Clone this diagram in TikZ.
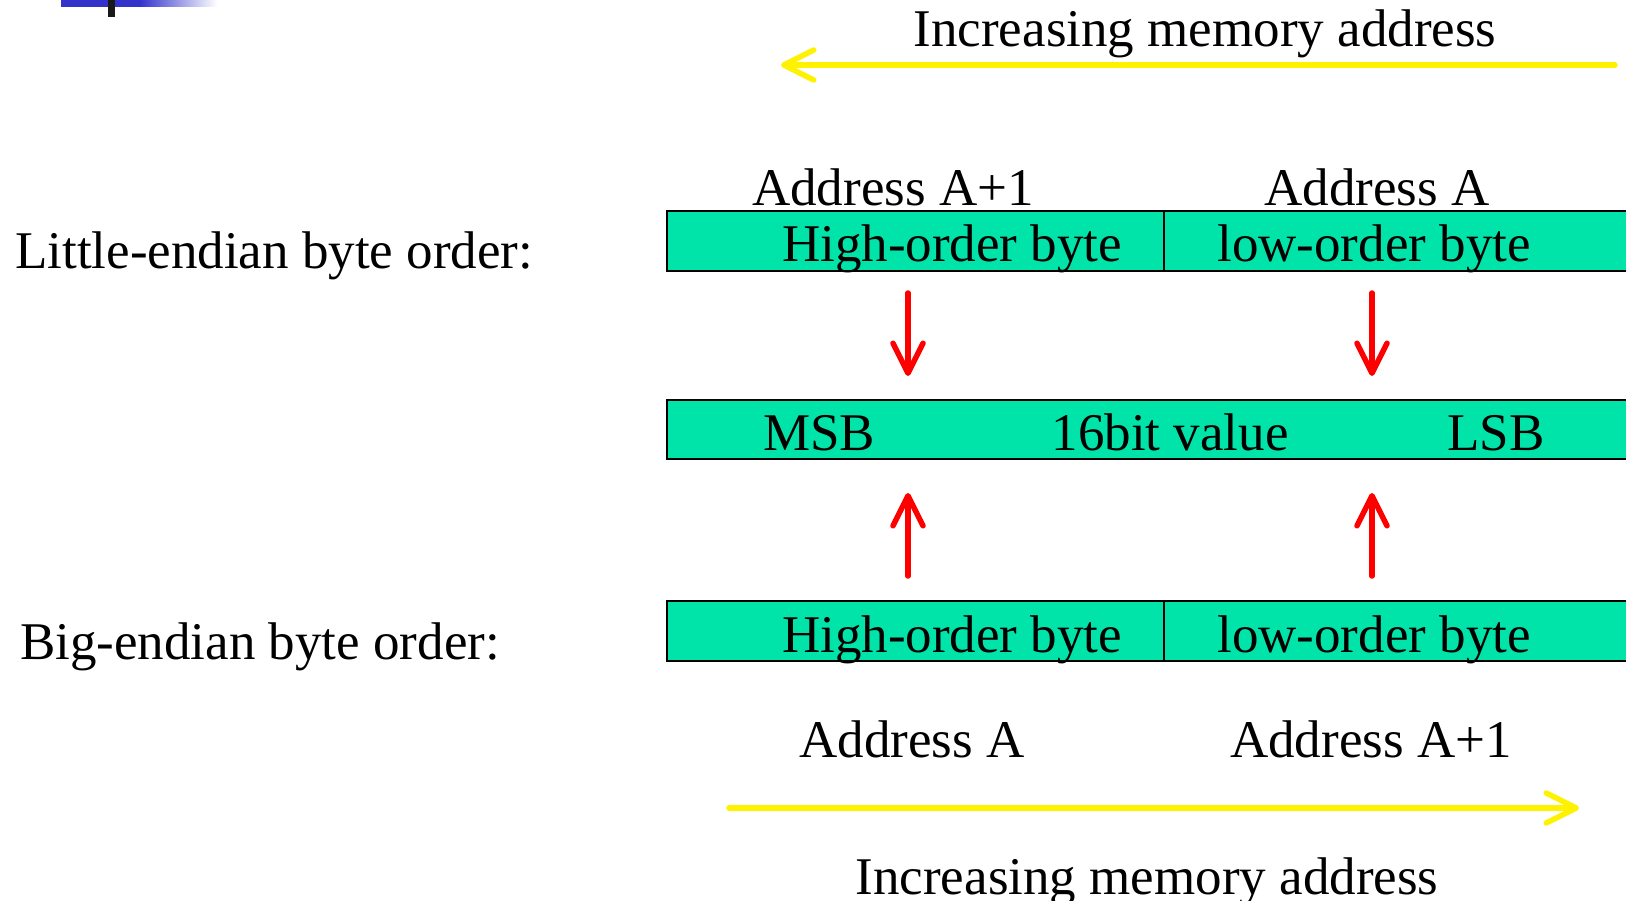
\documentclass[tikz,border=0pt]{standalone}
\usepackage{fontspec}
\setmainfont{Liberation Serif}
\usetikzlibrary{arrows.meta}
\definecolor{cellgreen}{RGB}{0,228,170}
\definecolor{barblue}{RGB}{51,51,204}
\begin{document}
\begin{tikzpicture}[x=1pt,y=-1pt,
  lbl/.style={inner sep=0pt, anchor=base, font=\fontsize{53}{60}\selectfont},
  lblw/.style={lbl, anchor=base west},
  cell/.style={draw=black, line width=2.8pt, fill=cellgreen},
  yarrow/.style={draw=yellow, line width=5.5pt, line cap=round, -{Straight Barb[length=30pt,width=30pt,round]}},
  rarrow/.style={draw=red, line width=5.5pt, line cap=round, -{Straight Barb[length=30pt,width=30pt,round]}}]
\useasboundingbox (0,0) rectangle (1626,901);
% top-left decoration
\fill[barblue] (61,-5) rectangle (140,7);
\shade[left color=barblue, right color=white] (139.5,-5) rectangle (217,7);
\fill[black!90] (108,-5) rectangle (115,17);
% top increasing address arrow
\node[lbl] (topt) at (1205,47) {Increasing memory address};
\coordinate (ta1) at (1615,65);
\coordinate (ta2) at (781,65);
\draw[yarrow] (ta1) -- (ta2);
% little-endian
\node[lblw] (le) at (15,269) {Little-endian byte order:};
\node[lbl] (adA1t) at (893,206) {Address A+1};
\node[lbl] (adAt) at (1377,206) {Address A};
\path[cell] (667,211) rectangle (1164,271);
\path[cell] (1164,211) rectangle (1650,271);
\node[lbl] (hi1) at (952,262) {High-order byte};
\node[lbl] (lo1) at (1374,262) {low-order byte};
% down arrows
\coordinate (d1s) at (908,293); \coordinate (d1e) at (908,376);
\coordinate (d2s) at (1372,293); \coordinate (d2e) at (1372,376);
\draw[rarrow] (d1s) -- (d1e);
\draw[rarrow] (d2s) -- (d2e);
% value
\path[cell] (667,400) rectangle (1650,459);
\node[lbl] (msb) at (819,450) {MSB};
\node[lbl] (val) at (1170,450) {16bit value};
\node[lbl] (lsb) at (1496,450) {LSB};
% up arrows
\coordinate (u1s) at (908,576); \coordinate (u1e) at (908,493);
\coordinate (u2s) at (1372,576); \coordinate (u2e) at (1372,493);
\draw[rarrow] (u1s) -- (u1e);
\draw[rarrow] (u2s) -- (u2e);
% big-endian
\node[lblw] (be) at (20,659) {Big-endian byte order:};
\path[cell] (667,601) rectangle (1164,661);
\path[cell] (1164,601) rectangle (1650,661);
\node[lbl] (hi2) at (952,652) {High-order byte};
\node[lbl] (lo2) at (1374,652) {low-order byte};
\node[lbl] (adAb) at (912,757) {Address A};
\node[lbl] (adA1b) at (1371,757) {Address A+1};
% bottom increasing address arrow
\coordinate (ba1) at (729,808);
\coordinate (ba2) at (1579,808);
\draw[yarrow] (ba1) -- (ba2);
\node[lbl] (bott) at (1147,894) {Increasing memory address};
\end{tikzpicture}
\end{document}
